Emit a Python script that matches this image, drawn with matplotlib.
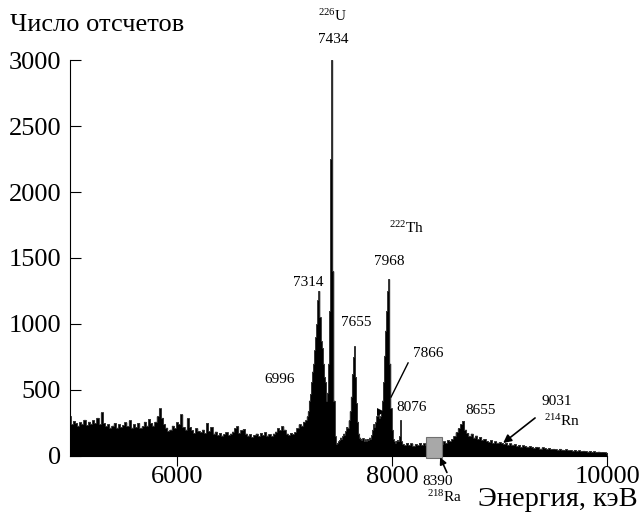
import numpy as np
import matplotlib
matplotlib.use('Agg')
import matplotlib.pyplot as plt
from matplotlib.patches import Rectangle

plt.rcParams['font.family'] = ['Liberation Serif', 'DejaVu Serif']
plt.rcParams['mathtext.fontset'] = 'custom'
plt.rcParams['mathtext.rm'] = 'Liberation Serif'
plt.rcParams['mathtext.it'] = 'Liberation Serif:italic'

# spectrum (keV, counts)
energy_low = np.arange(5000, 7200, 20)
counts_low = [300, 240, 265, 250, 230, 255, 240, 275, 235, 260,
              245, 270, 250, 290, 240, 330, 250, 225, 240, 215,
              230, 250, 215, 240, 220, 235, 255, 225, 270, 215,
              240, 220, 250, 210, 225, 260, 230, 280, 250, 230,
              260, 300, 360, 290, 240, 215, 190, 200, 230, 210,
              255, 240, 315, 220, 200, 285, 220, 195, 175, 210,
              190, 180, 200, 175, 250, 190, 220, 170, 185, 160,
              175, 155, 165, 180, 160, 170, 185, 210, 225, 175,
              195, 205, 170, 155, 165, 145, 160, 170, 150, 175,
              160, 180, 155, 165, 150, 170, 185, 210, 195, 225,
              200, 170, 160, 175, 165, 180, 210, 240, 230, 260]

energy_mid = np.arange(7200, 8100, 10)
counts_mid = [270, 300, 340, 420, 470, 560, 640, 700, 800, 900,
              1000, 1180, 1250, 1050, 870, 820, 700, 600, 560, 420,
              480, 700, 1100, 2250, 3000, 1400, 420, 150, 90, 100,
              110, 120, 140, 130, 150, 170, 160, 190, 220, 210,
              270, 340, 450, 620, 750, 830, 600, 400, 260, 170,
              140, 130, 120, 135, 110, 125, 115, 130, 120, 140,
              130, 160, 200, 240, 220, 260, 300, 330, 290, 300,
              340, 420, 560, 760, 950, 1100, 1250, 1340, 700, 360,
              200, 130, 110, 100, 115, 120, 110, 150, 270, 110]

energy_high = np.arange(8100, 10001, 20)
counts_high = [90, 80, 100, 85, 95, 75, 90, 80, 100, 85,
               95, 80, 75, 90, 80, 95, 85, 100, 90, 110,
               100, 120, 110, 130, 150, 180, 210, 240, 265, 200,
               175, 150, 170, 140, 155, 130, 145, 120, 130, 115,
               105, 120, 100, 110, 95, 105, 100, 90, 100, 85,
               95, 80, 90, 75, 85, 70, 80, 75, 65, 75,
               70, 60, 70, 65, 55, 65, 60, 55, 60, 50,
               55, 50, 45, 55, 48, 45, 50, 42, 45, 40,
               45, 38, 42, 35, 40, 36, 33, 38, 32, 35,
               30, 33, 28, 30, 27, 25]

energy = np.concatenate([energy_low, energy_mid, energy_high])
counts = np.array(counts_low + counts_mid + counts_high)

fig = plt.figure(figsize=(6.4, 5.21), dpi=100)
ax = fig.add_axes([0.1086, 0.1248, 0.840, 0.760])

ax.fill_between(energy, counts, step='mid', facecolor='black',
                edgecolor='black', lw=0.4)
ax.step(energy, counts, where='mid', color='#333333', lw=0.6)

ax.set_xlim(5000, 10000)
ax.set_ylim(0, 3000)
ax.set_xticks([6000, 8000, 10000])
ax.set_yticks(np.arange(0, 3001, 500))
ax.tick_params(axis='y', direction='in', length=8, labelsize=19, pad=6)
ax.tick_params(axis='x', direction='out', length=7, labelsize=19, pad=0)
for s in ['top', 'right']:
    ax.spines[s].set_visible(False)

# 8390 box
ax.add_patch(Rectangle((8316, -15), 150, 160, facecolor='#a8a8a8',
                       edgecolor='#707070', lw=0.8, clip_on=False, zorder=3))

fs = 11
ax.text(7451, 3152, '7434', fontsize=fs, ha='center', va='center')
ax.text(7451, 3330, r'$^{226}$U', fontsize=fs, ha='center', va='center')
ax.text(8140, 1727, r'$^{222}$Th', fontsize=fs, ha='center', va='center')
ax.text(7972, 1470, '7968', fontsize=fs, ha='center', va='center')
ax.text(7219, 1311, '7314', fontsize=fs, ha='center', va='center')
ax.text(7665, 1008, '7655', fontsize=fs, ha='center', va='center')
ax.text(8335, 780, '7866', fontsize=fs, ha='center', va='center')
ax.text(6958, 576, '6996', fontsize=fs, ha='center', va='center')
ax.text(8186, 364, '8076', fontsize=fs, ha='center', va='center')
ax.text(8828, 348, '8655', fontsize=fs, ha='center', va='center')
ax.text(9535, 409, '9031', fontsize=fs, ha='center', va='center')
ax.text(9581, 265, r'$^{214}$Rn', fontsize=fs, ha='center', va='center')
ax.text(8428, -197, '8390', fontsize=fs, ha='center', va='center')
ax.text(8493, -311, r'$^{218}$Ra', fontsize=fs, ha='center', va='center')

# pointers
ax.plot([8149, 7991], [705, 447], color='black', lw=1.0)
ax.plot([7898], [333], marker='>', color='black', ms=6, mew=0)
ax.annotate('', xy=(9033, 98), xytext=(9330, 288),
            arrowprops=dict(arrowstyle='-|>', color='black', lw=1.2,
                            mutation_scale=12, shrinkA=0, shrinkB=0))
ax.annotate('', xy=(8447, -10), xytext=(8510, -125),
            arrowprops=dict(arrowstyle='-|>', color='black', lw=1.2,
                            mutation_scale=10, shrinkA=0, shrinkB=0),
            annotation_clip=False)

fig.text(10 / 640, 1 - 25 / 521, 'Число отсчетов', fontsize=19,
         ha='left', va='center')
fig.text(478 / 640, 1 - 499 / 521, 'Энергия, кэВ', fontsize=20.5,
         ha='left', va='center')

fig.savefig('out.png', dpi=100)
